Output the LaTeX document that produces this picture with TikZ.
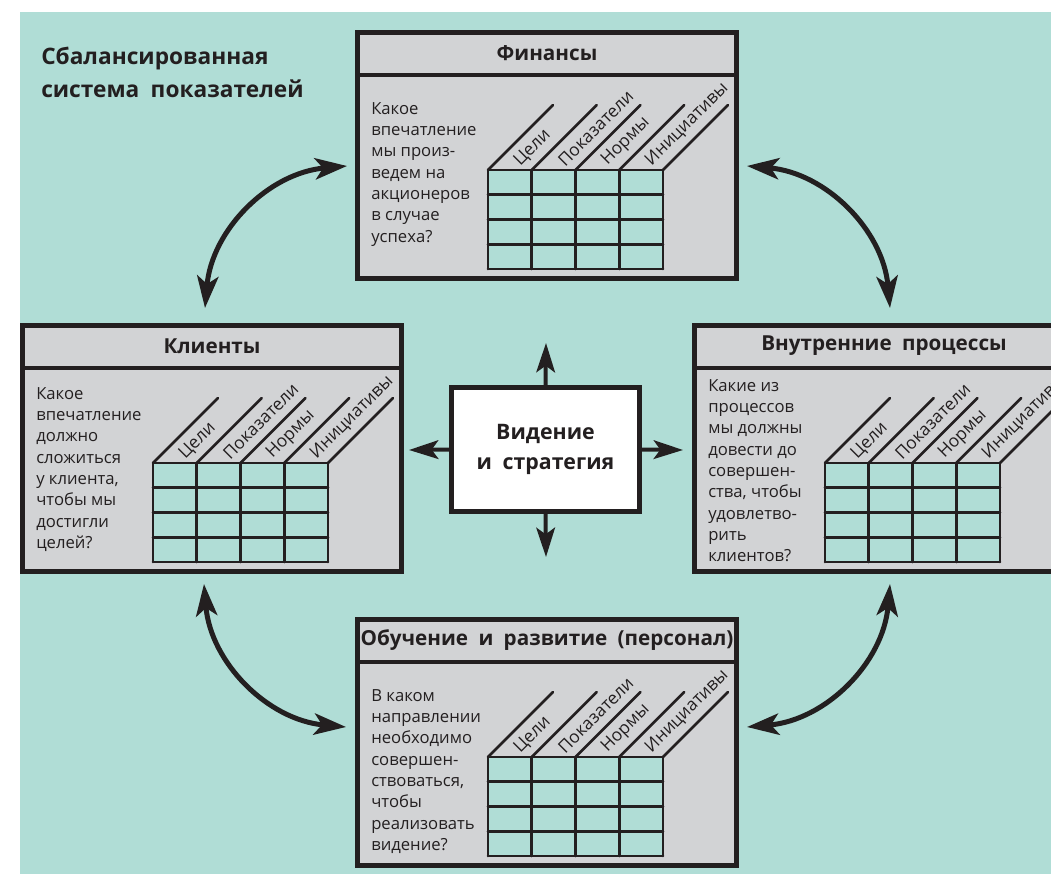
\documentclass[tikz,border=0pt]{standalone}
\usepackage{fontspec}
\setmainfont{Open Sans}
\usetikzlibrary{arrows.meta}
\definecolor{teal1}{HTML}{B0DDD6}
\definecolor{boxgray}{HTML}{D2D3D5}
\definecolor{ink}{HTML}{231F20}
\newcommand\ws{\hspace{0.5em}}
\newcommand\bscpanel[6]{%
  \node[panel] (#1) at (#2+192,#3+125.5) {};
  \draw[sepline] (#2+2,#3+45) -- (#2+382,#3+45);
  \node[head] (#1-t) at (#2+192,#3+23) {#4};
  \node[quest] (#1-q) at (#2+16,#3+#6-8) {#5};
  \fill[teal1] (#2+133,#3+140) rectangle (#2+308,#3+239);
  \foreach \i in {0,...,4}{%
    \draw[tbl] (#2+133+43.75*\i,#3+140) -- (#2+133+43.75*\i,#3+239);
    \draw[tbl] (#2+133+43.75*\i,#3+140) -- ++(65,-65);}
  \foreach \j in {0,...,4}{%
    \draw[tbl] (#2+133,#3+140+24.75*\j) -- (#2+308,#3+140+24.75*\j);}
  \foreach \i/\t in {0/Цели,1/Показатели,2/Нормы,3/Инициативы}{%
    \node[lbl] (#1-l\i) at (#2+133+43.75*\i+22+7,#3+140-7) {\t};}
}
\begin{document}
\begin{tikzpicture}[x=0.75pt,y=-0.75pt,
  panel/.style={draw=ink,line width=3.75pt,fill=boxgray,inner sep=0,
    minimum width=284.25pt,minimum height=184.5pt},
  sepline/.style={draw=ink,line width=3pt},
  head/.style={text=ink,font=\bfseries\fontsize{15.5}{18}\selectfont,inner sep=0},
  quest/.style={text=ink,anchor=north west,align=left,inner sep=0,
    font=\fontsize{12.5}{16}\selectfont},
  tbl/.style={draw=ink,line width=2pt,line cap=round},
  lbl/.style={text=ink,rotate=45,anchor=west,inner sep=0,
    font=\fontsize{13}{15}\selectfont},
  ttl/.style={text=ink,anchor=north west,align=left,inner sep=0,
    font=\bfseries\fontsize{17}{24.75}\selectfont},
  cbox/.style={draw=ink,line width=3.75pt,fill=white,inner sep=0,align=center,
    minimum width=141pt,minimum height=93pt,text=ink,
    font=\bfseries\fontsize{16}{23}\selectfont},
  carc/.style={draw=ink,line width=3.75pt,
    {Stealth[length=24pt,width=16pt,inset=6pt]}-{Stealth[length=24pt,width=16pt,inset=6pt]},
    bend left=40},
  carrow/.style={draw=ink,line width=3pt,-{Stealth[length=22pt,width=14pt,inset=5pt]}}
]
\useasboundingbox (0,0) rectangle (1051,874);
\clip (0,0) rectangle (1051,874);
\fill[white] (0,0) rectangle (1051,874);
\fill[teal1] (20,12) rectangle (1051,874);

\node[ttl] (title) at (41,47) {Сбалансированная\\система\ws показателей};

\bscpanel{fin}{355}{30}{Финансы}{Какое\\впечатление\\мы произ-\\ведем на\\акционеров\\в случае\\успеха?}{80}
\bscpanel{cli}{20}{323}{Клиенты}{Какое\\впечатление\\должно\\сложиться\\у клиента,\\чтобы мы\\достигли\\целей?}{72}
\bscpanel{int}{692}{323}{Внутренние\ws процессы}{Какие из\\процессов\\мы должны\\довести до\\совершен-\\ства, чтобы\\удовлетво-\\рить\\клиентов?}{64}
\bscpanel{edu}{355}{617}{Обучение\ws и\ws развитие\ws (персонал)}{В каком\\направлении\\необходимо\\совершен-\\ствоваться,\\чтобы\\реализовать\\видение?}{80}

\node[cbox] (vis) at (545.5,449.5) {Видение\\и\ws стратегия};

\coordinate (vis-up) at (546,343);
\coordinate (vis-dn) at (546,557);
\coordinate (vis-lf) at (409,450);
\coordinate (vis-rt) at (683,450);
\draw[carrow] (vis.north) -- (vis-up);
\draw[carrow] (vis.south) -- (vis-dn);
\draw[carrow] (vis.west) -- (vis-lf);
\draw[carrow] (vis.east) -- (vis-rt);

\coordinate (a1s) at (205,308);
\coordinate (a1e) at (347,166);
\coordinate (a2s) at (747,166);
\coordinate (a2e) at (890,308);
\coordinate (a3s) at (346,727);
\coordinate (a3e) at (204,584);
\coordinate (a4s) at (890,584);
\coordinate (a4e) at (747,727);
\draw[carc] (a1s) to (a1e);
\draw[carc] (a2s) to (a2e);
\draw[carc] (a3s) to (a3e);
\draw[carc] (a4s) to (a4e);
\end{tikzpicture}
\end{document}
